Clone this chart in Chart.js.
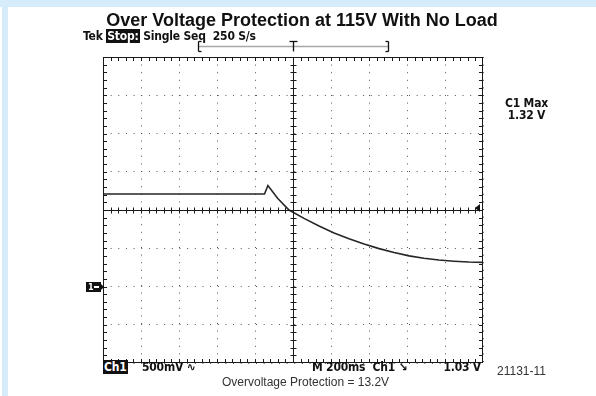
<!DOCTYPE html>
<html>
<head>
<meta charset="utf-8">
<script src="https://cdn.jsdelivr.net/npm/chart.js@4.4.0/dist/chart.umd.min.js"></script>
<style>
  html, body { margin: 0; padding: 0; background: #fff; }
  #wrap { position: relative; width: 596px; height: 396px; overflow: hidden; }
  .edge-top { position: absolute; left: 0; top: 0; width: 596px; height: 7px; background: #d6ecfa; }
  .edge-left { position: absolute; left: 2px; top: 0; width: 6px; height: 396px; background: #d6ecfa; }
  canvas { position: absolute; left: 0; top: 0; }
  .txt { position: absolute; white-space: pre; color: #111; }
  .title { left: 0; width: 604px; top: 10px; text-align: center; font: bold 18px "Liberation Sans", Arial, sans-serif; }
  .scope { font: bold 12px "DejaVu Sans Condensed", "DejaVu Sans", sans-serif; letter-spacing: -0.2px; }
  .inv { background: #111; color: #fff; padding: 0 1px; }
  .plain { font: 12px "Liberation Sans", Arial, sans-serif; color: #333; }
</style>
</head>
<body>
<div id="wrap">
  <div class="edge-top"></div>
  <div class="edge-left"></div>
  <canvas id="scope" width="596" height="396"></canvas>
  <div class="txt title">Over Voltage Protection at 115V With No Load</div>
  <div class="txt scope" style="left:83px; top:29px;">Tek <span class="inv">Stop:</span> Single Seq  250 S/s</div>
  <div class="txt scope" style="left:505px; top:97px; text-align:center; line-height:12px;">C1 Max<br>1.32 V</div>
  <div class="txt scope" style="left:103px; top:360px;"><span class="inv">Ch1</span></div>
  <div class="txt scope" style="left:142px; top:360px;">500mV ∿</div>
  <div class="txt scope" style="left:312px; top:360px;">M 200ms  Ch1 ↘</div>
  <div class="txt scope" style="left:0; width:481px; text-align:right; top:360px;">1.03 V</div>
  <div class="txt plain" style="left:497px; top:364px;">21131-11</div>
  <div class="txt plain" style="left:222px; top:375px;">Overvoltage Protection = 13.2V</div>
</div>
<script>
// Ch1 capture, single sequence, 200 ms/div, 500 mV/div
const timeMs   = [0, 850, 868, 920, 979, 1058, 1137, 1216, 1295, 1374, 1453, 1532, 1611, 1689, 1768, 1847, 1926, 2000];
const ch1Volts = [1.21, 1.21, 1.32, 1.15, 1.00, 0.89, 0.79, 0.70, 0.625, 0.555, 0.495, 0.445, 0.40, 0.37, 0.346, 0.331, 0.32, 0.315];

const triggerMs = 1000;     // trigger point, screen centre
const triggerLevel = 1.03;  // V
const groundLevel = 0;      // Ch1 reference marker

// graticule: 10 x 8 divisions, 5 minor ticks per division
const timeDiv = 200, voltDiv = 0.5;
const timeMin = 0, timeMax = 2000;
const voltMin = -1, voltMax = 3;

const graticule = {
  id: 'graticule',
  afterDraw(chart) {
    const { ctx, chartArea: a, scales: { x, y } } = chart;
    const cx = Math.round(x.getPixelForValue(triggerMs)) + 0.5;
    const cy = Math.round(y.getPixelForValue((voltMin + voltMax) / 2)) + 0.5;
    const seg = (x1, y1, x2, y2) => { ctx.beginPath(); ctx.moveTo(x1, y1); ctx.lineTo(x2, y2); ctx.stroke(); };

    ctx.save();
    ctx.strokeStyle = '#1a1a1a';
    ctx.lineWidth = 1;
    ctx.strokeRect(Math.round(a.left) + 0.5, Math.round(a.top) + 0.5, Math.round(a.width) - 1, Math.round(a.height) - 1);
    seg(cx, a.top, cx, a.bottom);
    seg(a.left, cy, a.right, cy);

    const nx = (timeMax - timeMin) / timeDiv * 5;
    for (let i = 1; i < nx; i++) {
      const px = Math.round(x.getPixelForValue(timeMin + i * timeDiv / 5)) + 0.5;
      seg(px, a.top, px, a.top + 4);
      seg(px, a.bottom - 4, px, a.bottom);
      seg(px, cy - 3, px, cy + 3);
    }
    const ny = (voltMax - voltMin) / voltDiv * 5;
    for (let i = 1; i < ny; i++) {
      const py = Math.round(y.getPixelForValue(voltMin + i * voltDiv / 5)) + 0.5;
      seg(a.left, py, a.left + 4, py);
      seg(a.right - 4, py, a.right, py);
      seg(cx - 3, py, cx + 3, py);
    }

    // record window bracket with trigger position
    const by = a.top - 10.5;
    const bl = Math.round(a.left + a.width * 0.25) + 0.5, br = Math.round(a.left + a.width * 0.75) + 0.5;
    ctx.strokeStyle = '#a8a8a8';
    ctx.lineWidth = 1.5;
    seg(bl, by, br, by);
    ctx.strokeStyle = '#111';
    ctx.lineWidth = 1.3;
    seg(bl, by - 5, bl, by + 5); seg(bl, by - 5, bl + 3, by - 5); seg(bl, by + 5, bl + 3, by + 5);
    seg(br, by - 5, br, by + 5); seg(br, by - 5, br - 3, by - 5); seg(br, by + 5, br - 3, by + 5);
    seg(cx - 4, by - 5, cx + 4, by - 5); seg(cx, by - 5, cx, by + 5);

    // Ch1 ground marker
    const gy = Math.round(y.getPixelForValue(groundLevel));
    ctx.fillStyle = '#111';
    ctx.fillRect(a.left - 17, gy - 5, 15, 10);
    ctx.beginPath();
    ctx.moveTo(a.left - 2, gy - 3); ctx.lineTo(a.left + 1, gy); ctx.lineTo(a.left - 2, gy + 3);
    ctx.fill();
    ctx.fillStyle = '#fff';
    ctx.font = 'bold 9px "DejaVu Sans Condensed", sans-serif';
    ctx.textBaseline = 'middle';
    ctx.fillText('1', a.left - 15, gy + 0.5);
    ctx.fillRect(a.left - 9, gy - 1, 5, 2);

    // trigger level marker
    const ty = Math.round(y.getPixelForValue(triggerLevel));
    ctx.fillStyle = '#111';
    ctx.beginPath();
    ctx.moveTo(a.right - 8, ty); ctx.lineTo(a.right - 3, ty - 4); ctx.lineTo(a.right - 3, ty + 4);
    ctx.fill();
    ctx.restore();
  }
};

new Chart(document.getElementById('scope'), {
  type: 'line',
  data: {
    datasets: [{
      label: 'Ch1',
      data: timeMs.map((t, i) => ({ x: t, y: ch1Volts[i] })),
      borderColor: '#262626',
      borderWidth: 1.6,
      pointRadius: 0,
      tension: 0,
      fill: false
    }]
  },
  options: {
    responsive: false,
    animation: false,
    devicePixelRatio: 1,
    layout: { padding: { left: 103, right: 113, top: 57, bottom: 33 } },
    plugins: { legend: { display: false }, tooltip: { enabled: false }, title: { display: false } },
    scales: {
      x: {
        type: 'linear', min: timeMin, max: timeMax,
        ticks: { display: false, stepSize: timeDiv },
        grid: { color: '#555', lineWidth: 1, drawTicks: false },
        border: { display: false, dash: [1, 6.6] }
      },
      y: {
        type: 'linear', min: voltMin, max: voltMax,
        ticks: { display: false, stepSize: voltDiv },
        grid: { color: '#555', lineWidth: 1, drawTicks: false },
        border: { display: false, dash: [1, 6.65] }
      }
    }
  },
  plugins: [graticule]
});
</script>
</body>
</html>
